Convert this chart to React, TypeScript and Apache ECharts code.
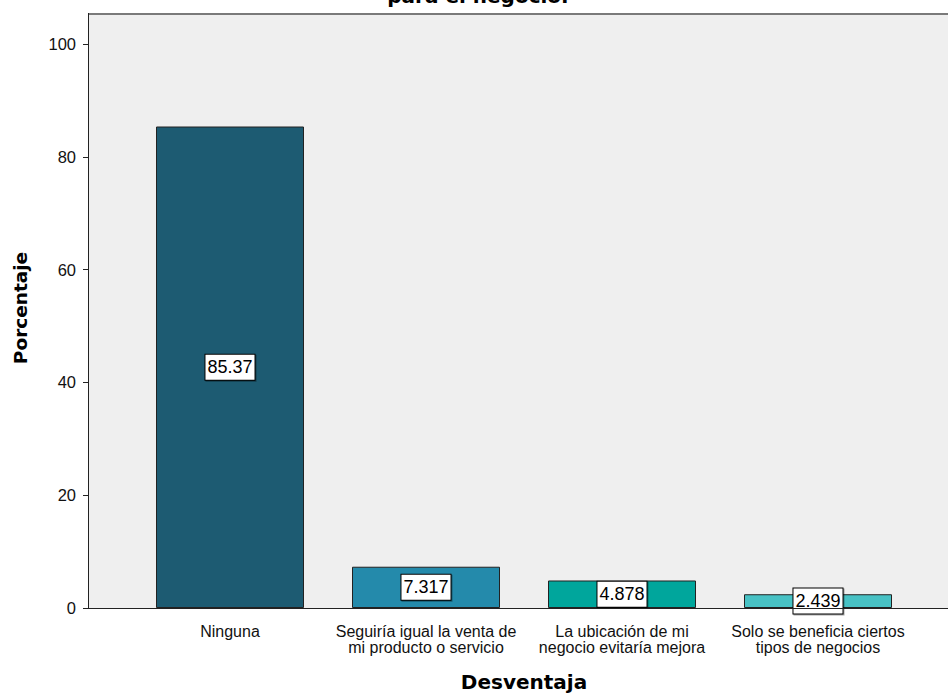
import React, { useEffect, useRef } from "react";
import * as echarts from "echarts";

const categories = [
  "Ninguna",
  "Seguiría igual la venta de\nmi producto o servicio",
  "La ubicación de mi\nnegocio evitaría mejora",
  "Solo se beneficia ciertos\ntipos de negocios",
];
const values = [85.37, 7.317, 4.878, 2.439];
const labels = ["85.37", "7.317", "4.878", "2.439"];
const colors = ["#1d5b72", "#248aab", "#00a69c", "#48c2c5"];
const yTicks = [0, 20, 40, 60, 80, 100];
const titleText = "para el negocio.";
const xName = "Desventaja";
const yName = "Porcentaje";

const FONT = "'Liberation Sans', Arial, sans-serif";
const BOLD = "'DejaVu Sans', Verdana, sans-serif";

export default function App() {
  const ref = useRef<HTMLDivElement>(null);
  useEffect(() => {
    if (!ref.current) return;
    const chart = echarts.init(ref.current, undefined, { renderer: "svg" });
    const plotLeft = 89;
    const plotRight = 948;
    const gridLeft = 132;
    const gridW = 784;
    const top = 44;
    const bottom = 608;
    chart.setOption({
      animation: false,
      textStyle: { fontFamily: FONT },
      grid: {
        left: gridLeft,
        top,
        width: gridW,
        height: bottom - top,
        containLabel: false,
        outerBoundsMode: "none",
      },
      graphic: [
        {
          type: "rect",
          z: -10,
          silent: true,
          shape: { x: plotLeft, y: 14, width: plotRight - plotLeft, height: bottom - 14 },
          style: { fill: "#efefef" },
        },
        {
          type: "line",
          z: 5,
          shape: { x1: plotLeft, y1: 14, x2: plotRight, y2: 14 },
          style: { stroke: "#7a7a7a", lineWidth: 2 },
        },
        {
          type: "line",
          z: 5,
          shape: { x1: 88.5, y1: 13, x2: 88.5, y2: bottom },
          style: { stroke: "#222", lineWidth: 1 },
        },
        {
          type: "line",
          z: 5,
          shape: { x1: plotLeft, y1: bottom + 0.5, x2: plotRight, y2: bottom + 0.5 },
          style: { stroke: "#222", lineWidth: 1 },
        },
        {
          type: "text",
          x: 478,
          y: -14,
          style: {
            text: titleText,
            font: `bold 20px ${BOLD}`,
            fill: "#000",
            textAlign: "center",
            textVerticalAlign: "top",
          },
        },
        {
          type: "text",
          x: 20,
          y: 308,
          rotation: Math.PI / 2,
          style: {
            text: yName,
            font: `bold 18.5px ${BOLD}`,
            fill: "#000",
            textAlign: "center",
            textVerticalAlign: "middle",
          },
        },
      ],
      xAxis: {
        type: "category",
        data: categories,
        boundaryGap: true,
        name: xName,
        nameLocation: "middle",
        nameGap: 64,
        nameTextStyle: { fontFamily: BOLD, fontSize: 20, fontWeight: "bold", color: "#000" },
        axisLine: { show: false },
        axisTick: { alignWithLabel: true, length: 6, lineStyle: { color: "#222" } },
        axisLabel: {
          interval: 0,
          margin: 15,
          fontFamily: FONT,
          fontSize: 16,
          lineHeight: 16.5,
          color: "#111",
        },
        splitLine: { show: false },
      },
      yAxis: {
        type: "value",
        min: 0,
        max: 100,
        interval: 20,
        offset: gridLeft - plotLeft,
        axisLine: { show: false },
        axisTick: { show: true, length: 6, lineStyle: { color: "#222" } },
        axisLabel: {
          margin: 13,
          fontFamily: FONT,
          fontSize: 16.5,
          color: "#111",
          formatter: (v: number) => (yTicks.includes(v) ? String(v) : ""),
        },
        splitLine: { show: false },
      },
      series: [
        {
          type: "bar",
          barWidth: 148,
          data: values.map((v, i) => ({
            value: v,
            itemStyle: { color: colors[i], borderColor: "#222", borderWidth: 1 },
          })),
          label: {
            show: true,
            position: "inside",
            formatter: (p: any) => labels[p.dataIndex],
            fontFamily: FONT,
            fontSize: 18,
            lineHeight: 18,
            color: "#000",
            backgroundColor: "#fff",
            borderColor: "#000",
            borderWidth: 1,
            padding: [4, 2, 3, 2],
            shadowColor: "rgba(0,0,0,0.35)",
            shadowOffsetX: 1,
            shadowOffsetY: 1,
          },
        },
      ],
    });
    return () => chart.dispose();
  }, []);
  return (
    <div
      ref={ref}
      style={{ position: "fixed", left: 0, top: 0, width: 948, height: 696, background: "#fff" }}
    />
  );
}
